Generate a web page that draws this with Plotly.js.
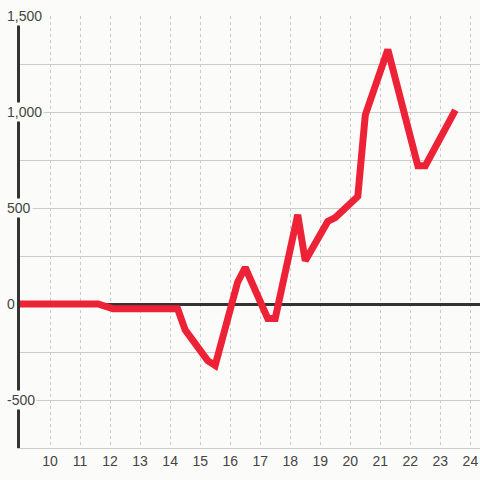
<!DOCTYPE html>
<html>
<head>
<meta charset="utf-8">
<script src="https://cdn.plot.ly/plotly-3.0.1.min.js"></script>
<style>
html,body{margin:0;padding:0;background:#fbfcf9;}
#chart{width:480px;height:480px;}
</style>
</head>
<body>
<div id="chart"></div>
<script>
var xValues = [9, 11.6, 12.1, 14.25, 14.5, 15.25, 15.5, 16.25, 16.5, 17.25, 17.5, 18.25, 18.5, 19.25, 19.5, 20.25, 20.5, 21.25, 22.25, 22.5, 23.5];
var yValues = [0, 0, -25, -25, -135, -295, -320, 115, 190, -75, -75, 465, 225, 430, 450, 560, 985, 1325, 720, 720, 1010];
var yTickValues = [1500, 1000, 500, 0, -500];
var yTickLabels = ["1,500", "1,000", "500", "0", "-500"];
var xTickValues = [10, 11, 12, 13, 14, 15, 16, 17, 18, 19, 20, 21, 22, 23, 24];
var xTickLabels = ["10", "11", "12", "13", "14", "15", "16", "17", "18", "19", "20", "21", "22", "23", "24"];

var bg = "#fbfcf9";
var labelFont = {family: "Liberation Sans, Arial, sans-serif", size: 14, color: "#444"};

var annotations = yTickValues.map(function (v, i) {
  return {
    xref: "paper", yref: "y", x: 0, y: v, xshift: -15,
    xanchor: "left", yanchor: "middle",
    text: yTickLabels[i], showarrow: false,
    font: labelFont, bgcolor: bg, borderpad: 1
  };
});

var trace = {
  x: xValues, y: yValues, type: "scatter", mode: "lines",
  line: {color: "#ee2236", width: 7},
  hoverinfo: "skip"
};

var layout = {
  width: 480, height: 480,
  margin: {l: 20, r: 0, t: 16, b: 32, pad: 0},
  paper_bgcolor: bg, plot_bgcolor: bg,
  showlegend: false,
  xaxis: {
    range: [9, 24.32], tickmode: "array", tickvals: xTickValues, ticktext: xTickLabels,
    showgrid: true, gridcolor: "#c8c8c8", griddash: "dot", gridwidth: 1,
    zeroline: false, showline: true, linecolor: "#cccccc", linewidth: 1,
    ticks: "", tickfont: labelFont, fixedrange: true
  },
  yaxis: {
    range: [-750, 1500], tickmode: "linear", tick0: 0, dtick: 250,
    showticklabels: false, ticks: "",
    showgrid: true, gridcolor: "#cccccc", gridwidth: 1,
    zeroline: true, zerolinecolor: "#333333", zerolinewidth: 3,
    showline: true, linecolor: "#333333", linewidth: 3, layer: "below traces",
    fixedrange: true
  },
  annotations: annotations
};

Plotly.newPlot("chart", [trace], layout, {displayModeBar: false, staticPlot: true});
</script>
</body>
</html>
